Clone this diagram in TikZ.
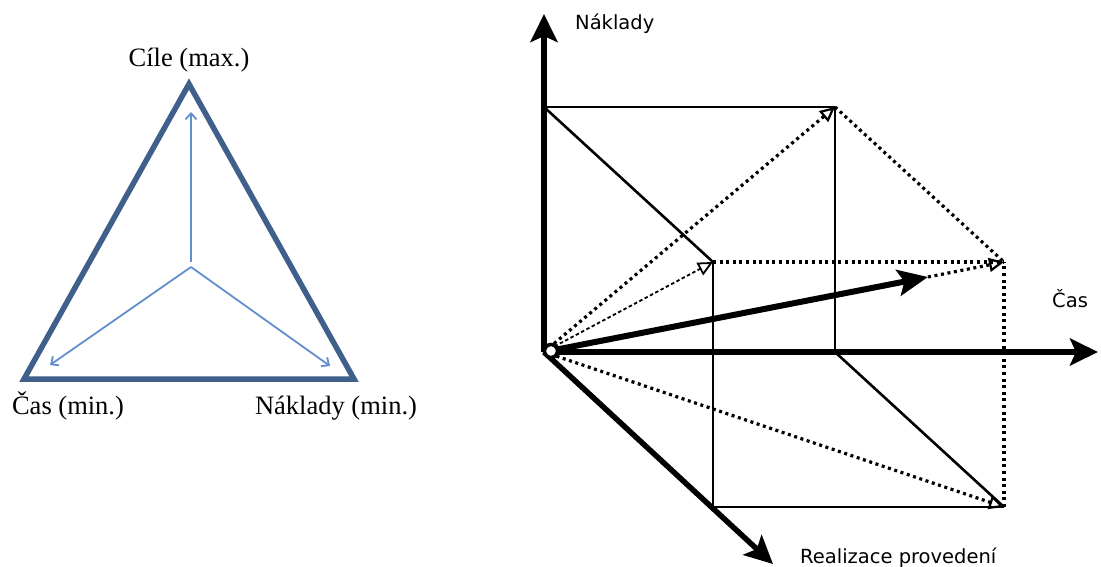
\documentclass[tikz,border=0pt]{standalone}
\usepackage{fontspec}
\setmainfont{Liberation Serif}
\newfontfamily\dvsans{DejaVu Sans}
\usetikzlibrary{arrows.meta,calc}
\definecolor{triblue}{RGB}{64,96,140}
\definecolor{inblue}{RGB}{98,142,205}
\begin{document}
\begin{tikzpicture}[x=1pt,y=-1pt,
  tri/.style={draw=triblue, line width=5.5pt, line join=miter},
  inarrow/.style={draw=inblue, line width=1.8pt, -{Straight Barb[length=6pt,width=11pt]}},
  serlab/.style={font=\fontsize{26.5}{30}\selectfont, inner sep=0pt, anchor=base},
  sanslab/.style={font=\dvsans\fontsize{19.5}{22}\selectfont, inner sep=0pt, anchor=base west},
  axisarrow/.style={line width=5.5pt, -{Stealth[length=28pt,width=27pt,inset=6pt]}},
  thinedge/.style={line width=2.6pt},
  dotedge/.style={line width=3.2pt, dash pattern=on 3pt off 3.6pt},
  dotvec/.style={dotedge, -{Triangle[open, length=15pt, width=14pt, line width=2.2pt]}},
  dashvec/.style={line width=1.8pt, dash pattern=on 3.5pt off 2.5pt, -{Triangle[open, length=15pt, width=14pt, line width=1.8pt]}},
  bigvec/.style={line width=6pt, -{Stealth[length=30pt,width=26pt,inset=6pt]}},
]
\useasboundingbox (0,0) rectangle (1101,567);

% ---------- left: triangle ----------
\coordinate (tt) at (189,84);
\coordinate (tl) at (24,379);
\coordinate (tr) at (354,379);
\coordinate (tc) at (191,267);
\coordinate (tcu) at (191,262);
\coordinate (au) at (191,112);
\coordinate (al) at (50,365);
\coordinate (ar) at (330,366);
\draw[tri] (tt) -- (tl) -- (tr) -- cycle;
\draw[inarrow] (tcu) -- (au);
\draw[inarrow] (tc) -- (al);
\draw[inarrow] (tc) -- (ar);
\node[serlab] (lcile) at (189,67) {Cíle (max.)};
\node[serlab] (lcas) at (68,414) {Čas (min.)};
\node[serlab] (lnak) at (336,414) {Náklady (min.)};

% ---------- right: cube ----------
\coordinate (O) at (544,352);
\coordinate (A) at (544,107);
\coordinate (B) at (835,352);
\coordinate (C) at (713,507);
\coordinate (AB) at (835,107);
\coordinate (AC) at (713,262);
\coordinate (BC) at (1004,507);
\coordinate (ABC) at (1004,262);
\coordinate (Atip) at (544,14);
\coordinate (Btip) at (1098,352);
\coordinate (Ctip) at (773,564);
\coordinate (T) at (928,277);

% solid edges
\draw[thinedge] (A) -- (AB);
\draw[thinedge] (A) -- (AC);
\draw[thinedge] (AC) -- (C);
\draw[thinedge] (AB) -- (B);
\draw[thinedge] (B) -- (BC);
\draw[thinedge] (C) -- (BC);
% dotted edges
\draw[dotedge] (AB) -- (ABC);
\draw[dotedge] (AC) -- (ABC);
\draw[dotedge] (BC) -- (ABC);
% vectors
\draw[dotvec] (O) -- (AB);
\draw[dashvec] (O) -- (AC);
\draw[dotvec] (O) -- (BC);
\draw[dotvec] (T) -- (ABC);
\draw[bigvec] (O) -- (T);
% axes
\draw[axisarrow] (O) -- (Atip);
\draw[axisarrow] (O) -- (Btip);
\draw[axisarrow] (O) -- (Ctip);
\node[circle, draw, line width=3.5pt, fill=white, minimum size=13pt, inner sep=0pt] (oc) at (551,351) {};

\node[sanslab] (lnaklady) at (575,30) {Náklady};
\node[sanslab] (lcas2) at (1052,307) {Čas};
\node[sanslab] (lreal) at (800,563) {Realizace provedení};
\end{tikzpicture}
\end{document}
